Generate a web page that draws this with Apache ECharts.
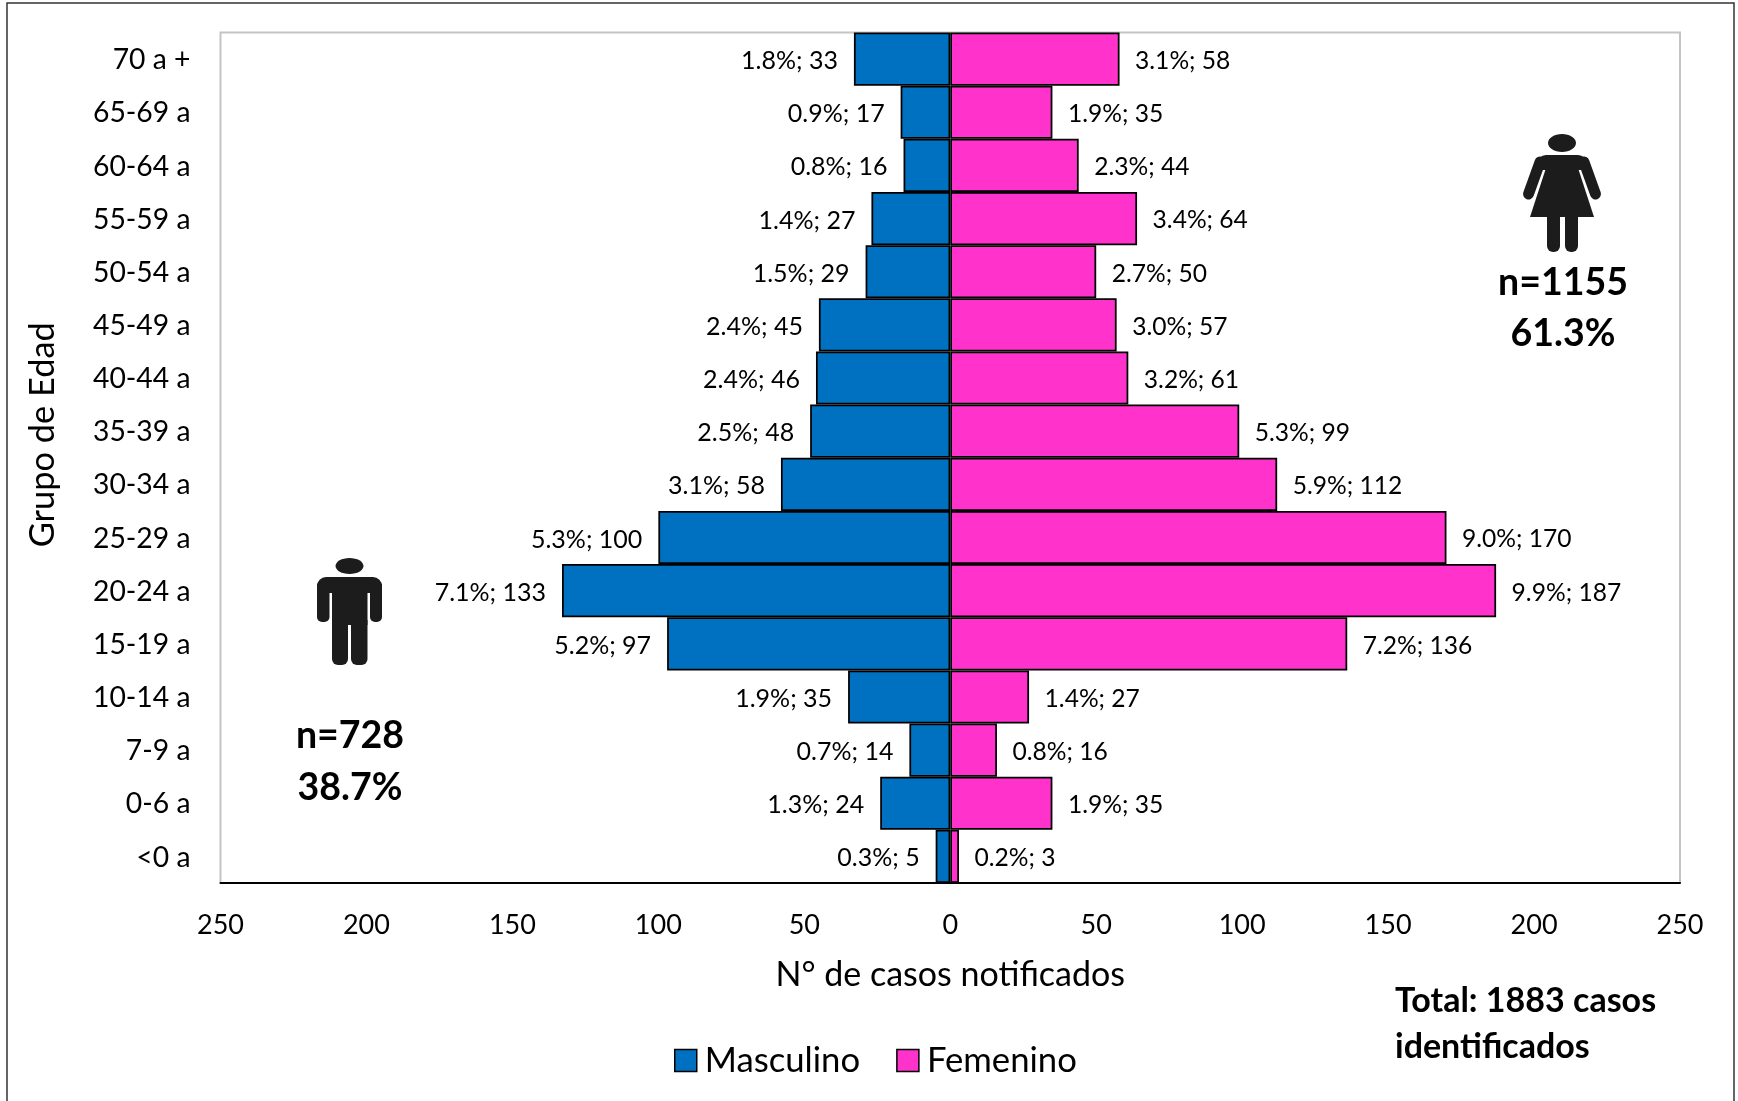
<!DOCTYPE html>
<html><head><meta charset="utf-8">
<style>html,body{margin:0;padding:0;background:#fff}#c{width:1738px;height:1101px}</style>
<script src="https://cdn.jsdelivr.net/npm/echarts@6/dist/echarts.min.js"></script></head>
<body><div id="c"></div>
<script>
const categories = ['<0 a','0-6 a','7-9 a','10-14 a','15-19 a','20-24 a','25-29 a','30-34 a','35-39 a','40-44 a','45-49 a','50-54 a','55-59 a','60-64 a','65-69 a','70 a +'];
const masculino = [5,24,14,35,97,133,100,58,48,46,45,29,27,16,17,33];
const femenino = [3,35,16,27,136,187,170,112,99,61,57,50,64,44,35,58];
const pctMasculino = ['0.3%','1.3%','0.7%','1.9%','5.2%','7.1%','5.3%','3.1%','2.5%','2.4%','2.4%','1.5%','1.4%','0.8%','0.9%','1.8%'];
const pctFemenino = ['0.2%','1.9%','0.8%','1.4%','7.2%','9.9%','9.0%','5.9%','5.3%','3.2%','3.0%','2.7%','3.4%','2.3%','1.9%','3.1%'];
const FONT = 'Lato';
const INK = '#1c1c1c';
const boldText = (x, y, text, align, size) => ({type:'text', x, y, style:{text, fontFamily:FONT, fontWeight:'bold', fontSize:size, fill:'#000', align, verticalAlign:'middle'}});
const ell = (cx, cy, rx, ry) => ({type:'ellipse', shape:{cx, cy, rx, ry}, style:{fill:INK}});
const box = (x, y, width, height, r) => ({type:'rect', shape:{x, y, width, height, r}, style:{fill:INK}});
const poly = points => ({type:'polygon', shape:{points}, style:{fill:INK}});
const limb = (x1, y1, x2, y2, w) => ({type:'line', shape:{x1, y1, x2, y2}, style:{stroke:INK, lineWidth:w, lineCap:'round'}});
const manIcon = [
  ell(349.5,566,14,8),
  box(317,577,65,16,[9,9,0,0]),
  box(317,584,12.5,38,[0,0,5,5]),
  box(370,584,12,38,[0,0,5,5]),
  box(332,584,35.5,41,0),
  box(332,620,16,45,[0,0,6,6]),
  box(351,620,16.5,45,[0,0,6,6])
];
const womanIcon = [
  ell(1562,143,14,9),
  box(1537,155,50,15,[9,9,0,0]),
  poly([[1546,168],[1530,217],[1594,217],[1578,168]]),
  limb(1540,162,1528.5,194,11),
  limb(1584,162,1595.5,194,11),
  box(1547,216,13,36,[0,0,6,6]),
  box(1565,216,13,36,[0,0,6,6])
];
const chart = echarts.init(document.getElementById('c'), null, {renderer:'canvas'});
chart.setOption({
  backgroundColor:'#fff',
  animation:false,
  textStyle:{fontFamily:FONT},
  grid:{left:220.5, right:58, top:32.5, bottom:218, show:true, borderColor:'#c4c4c4', borderWidth:2, backgroundColor:'#fff'},
  legend:{data:['Masculino','Femenino'], left:669, top:1038, itemWidth:22, itemHeight:22, itemGap:36, icon:'rect',
    textStyle:{fontFamily:FONT, fontSize:34.7, color:'#000', padding:[0,0,0,3]},
    itemStyle:{borderColor:'#000', borderWidth:1.5}},
  xAxis:{type:'value', min:-250, max:250, interval:50,
    name:'N° de casos notificados', nameLocation:'middle', nameGap:75, nameTextStyle:{fontFamily:FONT, fontSize:34, color:'#000'},
    axisLine:{show:true, onZero:false, lineStyle:{color:'#000', width:2}},
    axisTick:{show:false}, splitLine:{show:false},
    axisLabel:{fontFamily:FONT, fontSize:27, color:'#000', margin:29, formatter:v=>Math.abs(v)}},
  yAxis:{type:'category', data:categories,
    name:'Grupo de Edad', nameLocation:'middle', nameRotate:90, nameGap:161, nameTextStyle:{fontFamily:FONT, fontSize:34.4, color:'#000', padding:[0,0,0,46]},
    axisLine:{show:false, onZero:false}, axisTick:{show:false}, splitLine:{show:false},
    axisLabel:{fontFamily:FONT, fontSize:28.3, color:'#000', margin:30, verticalAlign:'top', lineHeight:2}},
  series:[
    {name:'Masculino', type:'bar', stack:'p', barWidth:'100%', data:masculino.map(v=>-v),
     itemStyle:{color:'#0070C0', borderColor:'#000', borderWidth:1.75},
     label:{show:true, position:'left', distance:16, offset:[0,2], fontFamily:FONT, fontSize:25, color:'#000',
       formatter:p=>pctMasculino[p.dataIndex]+'; '+masculino[p.dataIndex]}},
    {name:'Femenino', type:'bar', stack:'p', barWidth:'100%', data:femenino,
     itemStyle:{color:'#FF33CC', borderColor:'#000', borderWidth:1.75},
     label:{show:true, position:'right', distance:15.5, offset:[0,2], fontFamily:FONT, fontSize:24.6, color:'#000',
       formatter:p=>pctFemenino[p.dataIndex]+'; '+femenino[p.dataIndex]}}
  ],
  graphic:[
    {type:'rect', z:-10, silent:true, shape:{x:7,y:3,width:1727,height:1110}, style:{fill:'#fff', stroke:'#333', lineWidth:1.5}},
    ...manIcon, ...womanIcon,
    boldText(350,736,'n=728','center',37.5), boldText(350,788,'38.7%','center',37.5),
    boldText(1563,283,'n=1155','center',37.5), boldText(1563,334,'61.3%','center',37.5),
    boldText(1395,1001,'Total: 1883 casos','left',34), boldText(1395,1047,'identificados','left',34)
  ]
});
</script></body></html>
